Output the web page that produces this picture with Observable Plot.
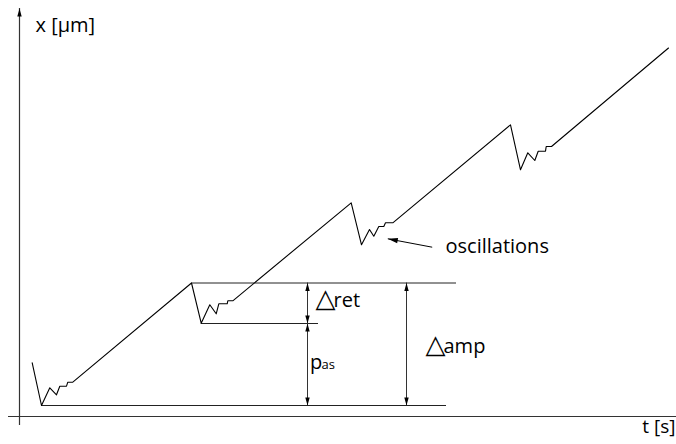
<!DOCTYPE html>
<html>
<head>
<meta charset="utf-8">
<script src="https://cdn.jsdelivr.net/npm/d3@7"></script>
<script src="https://cdn.jsdelivr.net/npm/@observablehq/plot@0.6"></script>
<style>
  html, body { margin: 0; padding: 0; background: #fff; }
  #chart svg { display: block; }
</style>
</head>
<body>
<div id="chart"></div>
<script>
// Trajectory x(t) (arbitrary units, origin at the axes crossing)
const curveT = [12.7, 22, 30.3, 37, 40.3, 47, 48.3, 53.3, 172, 181.7, 190.3, 196.7, 199.3, 207.7, 208.3, 213.3, 331.7, 342, 350, 354.3, 359.3, 364.3, 366, 373.3, 491, 501, 508.3, 515.3, 518.7, 526, 526.7, 532, 649];
const curveX = [53.7, 11, 28.7, 21.7, 30.3, 30.3, 34.3, 34.3, 133.5, 93.3, 111.7, 102.7, 112.7, 112.7, 115.7, 115.7, 213.7, 171.7, 187, 180.3, 190, 190, 193.7, 193.7, 291.7, 246.7, 263.7, 256, 265.3, 265.3, 270, 270, 368.5];

// Horizontal guide lines (base, peak, retraction level)
const guideStart = [22, 172, 181.7];
const guideEnd = [427, 437, 299];
const guideLevel = [11, 133.5, 93];

// Double-headed dimension arrows
const dimT = [288, 288, 387];
const dimTop = [133.5, 93, 133.5];
const dimBottom = [93, 11, 11];

// Pointer arrow to "oscillations"
const pointerFrom = {t: 412.7, x: 169.3};
const pointerTo = {t: 368.3, x: 177.7};

// Axes extents
const axisT = [-11, 657];
const axisX = [-9, 408];

// Labels (left-anchored)
const labelText = ["x [µm]", "ret", "p", "amp", "oscillations"];
const labelT = [16, 314, 290.5, 424, 426];
const labelX = [385, 109.3, 48, 64, 164];
// Delta symbols
const deltaText = ["△", "△"];
const deltaT = [296, 406];
const deltaX = [109.3, 64];
// Right-anchored axis label
const endText = ["t [s]"];
const endT = [656];
const endX = [-16];
// Subscript
const subText = ["as"];
const subT = [302];
const subX = [48];

// custom filled arrowhead: tip at origin, pointing up
const headUp = {draw(ctx) { ctx.moveTo(0, 0); ctx.lineTo(-2.2, 8); ctx.lineTo(2.2, 8); ctx.closePath(); }};
const headBig = {draw(ctx) { ctx.moveTo(0, 0); ctx.lineTo(-2.6, 10); ctx.lineTo(2.6, 10); ctx.closePath(); }};

const curve = curveT.map((t, i) => ({t, x: curveX[i]}));
const guides = guideStart.map((s, i) => ({t1: s, t2: guideEnd[i], x: guideLevel[i]}));
const dims = dimT.map((t, i) => ({t, top: dimTop[i], bottom: dimBottom[i]}));
const heads = dims.flatMap(d => [{t: d.t, x: d.top, rot: 0}, {t: d.t, x: d.bottom, rot: 180}]);
const zip = (s, t, x) => s.map((v, i) => ({s: v, t: t[i], x: x[i]}));
const labels = zip(labelText, labelT, labelX);
const deltas = zip(deltaText, deltaT, deltaX);
const ends = zip(endText, endT, endX);
const subs = zip(subText, subT, subX);
const pointerRot = Math.atan2(pointerTo.t - pointerFrom.t, pointerTo.x - pointerFrom.x) * 180 / Math.PI;

const plot = Plot.plot({
  width: 676,
  height: 444,
  margin: 0,
  x: {domain: [-19, 657], axis: null},
  y: {domain: [-28, 416], axis: null},
  style: {fontFamily: "'Open Sans', sans-serif", background: "#fff", color: "#000"},
  marks: [
    // axes
    Plot.ruleY([0], {x1: axisT[0], x2: axisT[1], stroke: "#333", strokeWidth: 1.2}),
    Plot.ruleX([0], {y1: axisX[0], y2: axisX[1], stroke: "#333", strokeWidth: 1.2}),
    Plot.dot([{t: 0, x: axisX[1]}], {x: "t", y: "x", symbol: headUp, fill: "#000", stroke: null, r: 3}),
    // guides
    Plot.ruleY(guides, {x1: "t1", x2: "t2", y: "x", stroke: "#222", strokeWidth: 1}),
    // dimension arrows
    Plot.ruleX(dims, {x: "t", y1: "top", y2: "bottom", stroke: "#333", strokeWidth: 1}),
    Plot.dot(heads, {x: "t", y: "x", rotate: "rot", symbol: headUp, fill: "#000", stroke: null, r: 3}),
    // pointer
    Plot.link([pointerFrom], {x1: "t", y1: "x", x2: () => pointerTo.t, y2: () => pointerTo.x, stroke: "#000", strokeWidth: 1}),
    Plot.dot([pointerTo], {x: "t", y: "x", rotate: pointerRot, symbol: headBig, fill: "#000", stroke: null, r: 3}),
    // curve
    Plot.line(curve, {x: "t", y: "x", stroke: "#000", strokeWidth: 1.1, curve: "linear"}),
    // labels
    Plot.text(labels, {x: "t", y: "x", text: "s", textAnchor: "start", lineAnchor: "bottom", fontSize: 20, fill: "#000"}),
    Plot.text(deltas, {x: "t", y: "x", text: "s", textAnchor: "start", lineAnchor: "bottom", fontSize: 26, fontFamily: "DejaVu Sans", fill: "#000"}),
    Plot.text(ends, {x: "t", y: "x", text: "s", textAnchor: "end", lineAnchor: "bottom", fontSize: 19, fill: "#000"}),
    Plot.text(subs, {x: "t", y: "x", text: "s", textAnchor: "start", lineAnchor: "bottom", fontSize: 13, fill: "#000"})
  ]
});
document.getElementById("chart").appendChild(plot);
</script>
</body>
</html>
